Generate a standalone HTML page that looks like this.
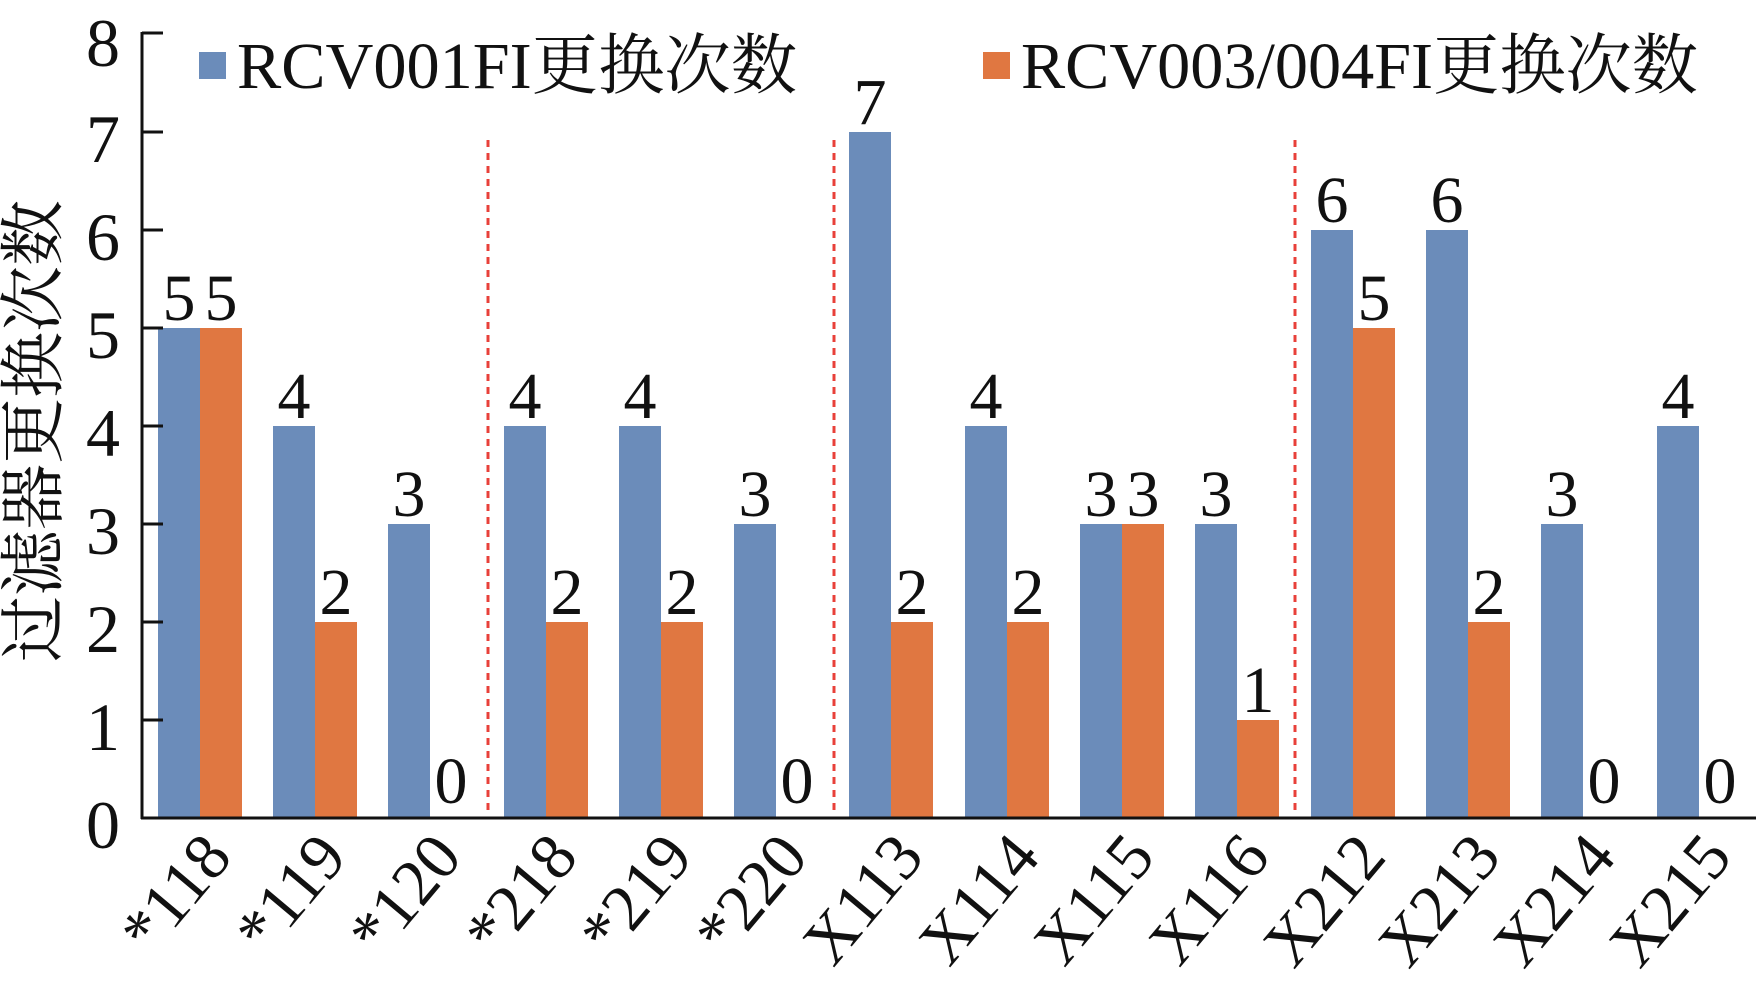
<!DOCTYPE html>
<html><head><meta charset="utf-8"><style>html,body{margin:0;padding:0;background:#fff}svg{display:block}</style></head>
<body>
<svg width="1756" height="995" viewBox="0 0 1756 995" xmlns="http://www.w3.org/2000/svg" font-family="'Liberation Serif','Noto Serif CJK SC',serif" fill="#111">
<g stroke="#e8403a" stroke-width="3" stroke-dasharray="7,6">
<line x1="488" y1="140" x2="488" y2="814"/>
<line x1="834" y1="140" x2="834" y2="814"/>
<line x1="1295" y1="140" x2="1295" y2="814"/>
</g>
<g fill="#6b8cba">
<rect x="158" y="328" width="42" height="490"/>
<rect x="273" y="426" width="42" height="392"/>
<rect x="388" y="524" width="42" height="294"/>
<rect x="504" y="426" width="42" height="392"/>
<rect x="619" y="426" width="42" height="392"/>
<rect x="734" y="524" width="42" height="294"/>
<rect x="849" y="132" width="42" height="686"/>
<rect x="965" y="426" width="42" height="392"/>
<rect x="1080" y="524" width="42" height="294"/>
<rect x="1195" y="524" width="42" height="294"/>
<rect x="1311" y="230" width="42" height="588"/>
<rect x="1426" y="230" width="42" height="588"/>
<rect x="1541" y="524" width="42" height="294"/>
<rect x="1657" y="426" width="42" height="392"/>
</g>
<g fill="#e07741">
<rect x="200" y="328" width="42" height="490"/>
<rect x="315" y="622" width="42" height="196"/>
<rect x="546" y="622" width="42" height="196"/>
<rect x="661" y="622" width="42" height="196"/>
<rect x="891" y="622" width="42" height="196"/>
<rect x="1007" y="622" width="42" height="196"/>
<rect x="1122" y="524" width="42" height="294"/>
<rect x="1237" y="720" width="42" height="98"/>
<rect x="1353" y="328" width="42" height="490"/>
<rect x="1468" y="622" width="42" height="196"/>
</g>
<g stroke="#111" stroke-width="3">
<line x1="142" y1="32" x2="142" y2="819"/>
<line x1="141" y1="818" x2="1756" y2="818"/>
<line x1="142" y1="33" x2="163" y2="33"/>
<line x1="142" y1="132" x2="163" y2="132"/>
<line x1="142" y1="230" x2="163" y2="230"/>
<line x1="142" y1="328" x2="163" y2="328"/>
<line x1="142" y1="426" x2="163" y2="426"/>
<line x1="142" y1="524" x2="163" y2="524"/>
<line x1="142" y1="622" x2="163" y2="622"/>
<line x1="142" y1="720" x2="163" y2="720"/>
</g>
<g font-size="68" text-anchor="end">
<text x="120" y="848">0</text>
<text x="120" y="750">1</text>
<text x="120" y="652">2</text>
<text x="120" y="554">3</text>
<text x="120" y="456">4</text>
<text x="120" y="358">5</text>
<text x="120" y="260">6</text>
<text x="120" y="162">7</text>
<text x="120" y="66">8</text>
</g>
<text transform="translate(56,431) rotate(-90)" font-size="66" text-anchor="middle" font-family="'Noto Serif CJK SC','Noto Sans CJK SC',serif">过滤器更换次数</text>
<rect x="199" y="52" width="27" height="27" fill="#6b8cba"/>
<text x="237" y="88" font-size="66" textLength="560" lengthAdjust="spacingAndGlyphs">RCV001FI更换次数</text>
<rect x="983" y="52" width="27" height="27" fill="#e07741"/>
<text x="1021" y="88" font-size="66" textLength="677" lengthAdjust="spacingAndGlyphs">RCV003/004FI更换次数</text>
<g font-size="66" text-anchor="middle">
<text x="179" y="320">5</text><text x="221" y="320">5</text>
<text x="294" y="418">4</text><text x="336" y="614">2</text>
<text x="409" y="516">3</text><text x="451" y="803">0</text>
<text x="525" y="418">4</text><text x="567" y="614">2</text>
<text x="640" y="418">4</text><text x="682" y="614">2</text>
<text x="755" y="516">3</text><text x="797" y="803">0</text>
<text x="870" y="124">7</text><text x="912" y="614">2</text>
<text x="986" y="418">4</text><text x="1028" y="614">2</text>
<text x="1101" y="516">3</text><text x="1143" y="516">3</text>
<text x="1216" y="516">3</text><text x="1258" y="712">1</text>
<text x="1332" y="222">6</text><text x="1374" y="320">5</text>
<text x="1447" y="222">6</text><text x="1489" y="614">2</text>
<text x="1562" y="516">3</text><text x="1604" y="803">0</text>
<text x="1678" y="418">4</text><text x="1720" y="803">0</text>
</g>
<g font-size="66" text-anchor="end">
<text transform="translate(234,858) rotate(-50)">*118</text>
<text transform="translate(349,858) rotate(-50)">*119</text>
<text transform="translate(464,858) rotate(-50)">*120</text>
<text transform="translate(580,858) rotate(-50)">*218</text>
<text transform="translate(695,858) rotate(-50)">*219</text>
<text transform="translate(810,858) rotate(-50)">*220</text>
<text transform="translate(926,858) rotate(-50)">X113</text>
<text transform="translate(1042,858) rotate(-50)">X114</text>
<text transform="translate(1157,858) rotate(-50)">X115</text>
<text transform="translate(1272,858) rotate(-50)">X116</text>
<text transform="translate(1388,858) rotate(-50)">X212</text>
<text transform="translate(1503,858) rotate(-50)">X213</text>
<text transform="translate(1618,858) rotate(-50)">X214</text>
<text transform="translate(1734,858) rotate(-50)">X215</text>
</g>
</svg>
</body></html>
